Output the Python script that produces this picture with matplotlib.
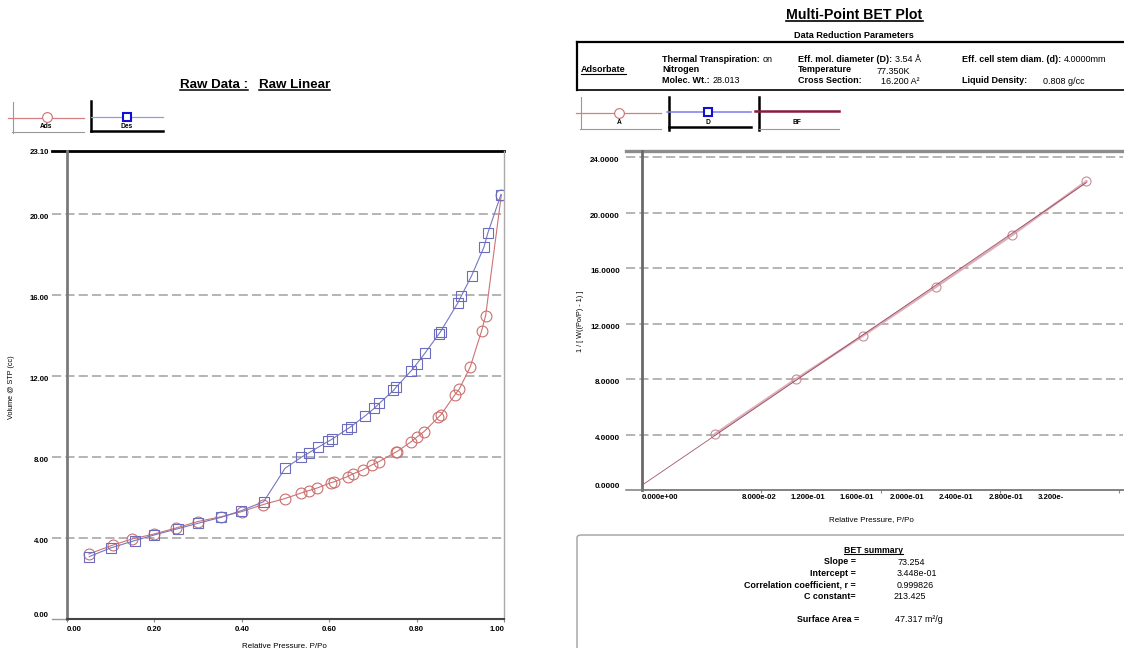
import matplotlib
matplotlib.use('Agg')
import matplotlib.pyplot as plt
from matplotlib.lines import Line2D
from matplotlib.patches import FancyBboxPatch
import numpy as np

plt.rcParams['font.family'] = ['Liberation Sans', 'DejaVu Sans']

W, H = 1124, 648

# Raw isotherm
ads_p = [0.050, 0.105, 0.149, 0.200, 0.249, 0.299, 0.353, 0.400, 0.449, 0.498,
         0.536, 0.554, 0.573, 0.603, 0.611, 0.642, 0.654, 0.677, 0.699, 0.714,
         0.752, 0.755, 0.788, 0.800, 0.817, 0.850, 0.856, 0.888, 0.898, 0.923,
         0.949, 0.958, 0.994]
ads_v = [3.21, 3.65, 3.95, 4.20, 4.49, 4.81, 5.05, 5.30, 5.65, 5.94,
         6.22, 6.34, 6.47, 6.72, 6.77, 7.03, 7.16, 7.36, 7.62, 7.77,
         8.23, 8.26, 8.76, 8.97, 9.25, 9.96, 10.09, 11.08, 11.36, 12.46,
         14.24, 14.98, 20.95]
des_p = [0.993, 0.963, 0.954, 0.926, 0.902, 0.894, 0.855, 0.851, 0.819, 0.800,
         0.788, 0.753, 0.747, 0.715, 0.703, 0.682, 0.650, 0.641, 0.606, 0.598,
         0.575, 0.554, 0.536, 0.499, 0.450, 0.399, 0.353, 0.299, 0.254, 0.200,
         0.155, 0.100, 0.051]
des_v = [20.95, 19.05, 18.35, 16.95, 15.93, 15.59, 14.19, 14.07, 13.12, 12.58,
         12.26, 11.44, 11.28, 10.65, 10.40, 10.02, 9.50, 9.37, 8.87, 8.77,
         8.48, 8.21, 7.98, 7.44, 5.79, 5.35, 5.02, 4.72, 4.46, 4.15,
         3.87, 3.51, 3.08]

# BET transform points
bet_p = [0.049, 0.103, 0.148, 0.197, 0.248, 0.298]
bet_y = [4.04, 7.98, 11.12, 14.65, 18.38, 22.27]
slope = 73.254
intercept = 0.3448

iso_yticks = [0, 4, 8, 12, 16, 20, 23.10]
iso_xticks = [0, 0.2, 0.4, 0.6, 0.8, 1.0]
bet_yticks = [0, 4, 8, 12, 16, 20, 24]
bet_xmajor = [0.08, 0.16, 0.24, 0.32]
# the report prints its x labels at these (odd) places
bet_xlab_pos = [0.0, 0.0785, 0.1113, 0.1442, 0.1777, 0.2106, 0.2441, 0.2743]
bet_xlab = ['0.000e+00', '8.000e-02', '1.200e-01', '1.600e-01', '2.000e-01',
            '2.400e-01', '2.800e-01', '3.200e-']

summary_keys = ['Slope =', 'Intercept =', 'Correlation coefficient, r =', 'C constant=']
summary_vals = ['73.254', '3.448e-01', '0.999826', '213.425']

fig = plt.figure(figsize=(W / 100, H / 100), dpi=100)
fig.patch.set_facecolor('white')


def fx(x):
    return x / W


def fy(y):
    return 1 - y / H


def T(x, y, s, **kw):
    kw.setdefault('va', 'center')
    kw.setdefault('fontsize', 6.5)
    return fig.text(fx(x), fy(y), s, **kw)


def L(xs, ys, **kw):
    fig.add_artist(Line2D([fx(v) for v in xs], [fy(v) for v in ys],
                          transform=fig.transFigure, **kw))


def underline(t, lw=0.9):
    r = fig.canvas.get_renderer()
    bb = t.get_window_extent(renderer=r)
    yy = (bb.y0 + 1.0) / H
    fig.add_artist(Line2D([bb.x0 / W, bb.x1 / W], [yy, yy],
                          transform=fig.transFigure, color='black', lw=lw))


def pair(x, y, bold, normal):
    t = T(x, y, bold, fontweight='bold')
    r = fig.canvas.get_renderer()
    bb = t.get_window_extent(renderer=r)
    T(bb.x1 + 3, y, normal)


dash = (0, (5.5, 2.5))

# ---------------- left: raw isotherm ----------------
ax1 = fig.add_axes([fx(67), fy(619), (504 - 67) / W, (619 - 151) / H])
ax1.set_xlim(0, 1.0)
ax1.set_ylim(0, 23.10)
for y in iso_yticks[1:-1]:
    ax1.axhline(y, xmin=-0.035, xmax=1, color='#a8a8a8', lw=1.2, ls=dash,
                clip_on=False, zorder=0)
ax1.axhline(23.10, xmin=-0.035, xmax=1, color='black', lw=2, clip_on=False)
ax1.axhline(0, xmin=-0.035, xmax=0, color='#999999', lw=1, clip_on=False)

ax1.plot(ads_p, ads_v, color='#cc7373', lw=0.8, marker='o', ms=7.8,
         mfc='none', mec='#cc6f6f', mew=0.8)
ax1.plot(des_p, des_v, color='#7676c2', lw=0.8, marker='s', ms=7.2,
         mfc='none', mec='#6c6cbc', mew=0.8)

ax1.spines['top'].set_visible(False)
ax1.spines['left'].set_color('#7a7a7a')
ax1.spines['left'].set_linewidth(2)
ax1.spines['right'].set_color('#aaaaaa')
ax1.spines['right'].set_linewidth(1)
ax1.spines['bottom'].set_color('#444444')
ax1.spines['bottom'].set_linewidth(1.5)
ax1.set_yticks(iso_yticks)
ax1.set_yticklabels([f'{v:.2f}' for v in iso_yticks], fontsize=5.6, fontweight='bold')
ax1.set_xticks(iso_xticks)
ax1.set_xticklabels([f'{v:.2f}' for v in iso_xticks], fontsize=5.6, fontweight='bold')
ax1.tick_params(axis='y', length=0, pad=13)
ax1.tick_params(axis='x', length=2, pad=3, color='#888888')
for lab in ax1.get_yticklabels()[:-1]:
    lab.set_va('top')
ax1.get_yticklabels()[0].set_va('bottom')
ax1.get_xticklabels()[0].set_ha('left')
ax1.get_xticklabels()[-1].set_ha('right')

T(12, 387, 'Volume @ STP (cc)', fontsize=5.2, rotation=90, ha='center')
T(284, 646, 'Relative Pressure, P/Po', fontsize=5.8, ha='center')

t = T(180, 85, 'Raw Data :', fontsize=9.6, fontweight='bold', ha='left')
underline(t, 1.1)
t = T(259, 85, 'Raw Linear', fontsize=9.6, fontweight='bold', ha='left')
underline(t, 1.1)

# legend keys (left)
L([12.5, 12.5], [102, 133], color='#999999', lw=0.8)
L([8, 84], [117.5, 117.5], color='#d08080', lw=0.9)
L([12, 84], [132, 132], color='#999999', lw=0.8)
fig.add_artist(Line2D([fx(46.5)], [fy(117)], transform=fig.transFigure, marker='o',
                      ms=7, mfc='white', mec='#cc7070', mew=0.8))
T(46.5, 126, 'Ads', fontsize=4.8, fontweight='bold', ha='center')
L([91, 91], [101, 131], color='black', lw=1.8)
L([91, 163], [117, 117], color='#9a9ad8', lw=0.9)
L([91, 163], [130.5, 130.5], color='black', lw=1.8)
fig.add_artist(Line2D([fx(126.5)], [fy(116.5)], transform=fig.transFigure, marker='s',
                      ms=6.2, mfc='white', mec='#1010d0', mew=1.5))
T(126.5, 126, 'Des', fontsize=4.8, fontweight='bold', ha='center')

# ---------------- right: BET plot ----------------
ax2 = fig.add_axes([fx(642), fy(490), (1123 - 642) / W, (490 - 151) / H])
ax2.set_xlim(0, 0.3225)
ax2.set_ylim(0, 24.45)
for y in bet_yticks[1:]:
    ax2.axhline(y, xmin=-0.033, xmax=1, color='#a8a8a8', lw=1.2, ls=dash,
                clip_on=False, zorder=0)
ax2.axhline(24.45, xmin=-0.033, xmax=1, color='#8c8c8c', lw=2.4, clip_on=False)
ax2.axhline(0, xmin=-0.033, xmax=0, color='#888888', lw=1.2, clip_on=False)

fit_x = np.array([0.0, bet_p[-1]])
ax2.plot(bet_p, bet_y, color='#dcb0b8', lw=1.8, marker='o', ms=6.5,
         mfc='none', mec='#c98c98', mew=0.8)
ax2.plot(fit_x, intercept + slope * fit_x, color='#8a2a48', lw=0.6, alpha=0.8)

ax2.spines['top'].set_visible(False)
ax2.spines['right'].set_visible(False)
ax2.spines['left'].set_color('#6a6a6a')
ax2.spines['left'].set_linewidth(2)
ax2.spines['bottom'].set_color('#777777')
ax2.spines['bottom'].set_linewidth(1.3)
ax2.set_yticks(bet_yticks)
ax2.set_yticklabels([f'{v:.4f}' for v in bet_yticks], fontsize=5.8, fontweight='bold')
ax2.tick_params(axis='y', length=0, pad=16)
for lab in ax2.get_yticklabels()[1:]:
    lab.set_va('top')
ax2.get_yticklabels()[0].set_va('bottom')
ax2.set_xticks(bet_xmajor)
ax2.set_xticklabels([])
ax2.tick_params(axis='x', which='major', length=2.5, color='#888888')
ax2.set_xticks(bet_xlab_pos, minor=True)
ax2.set_xticklabels(bet_xlab, minor=True, fontsize=5.6, fontweight='bold')
ax2.tick_params(axis='x', which='minor', length=0, pad=3)
ax2.get_xticklabels(minor=True)[0].set_ha('left')

T(580, 321, '1 / [ W((Po/P) - 1) ]', fontsize=5.2, rotation=90, ha='center')
T(871, 520, 'Relative Pressure, P/Po', fontsize=5.8, ha='center')

# header
t = T(854.5, 15, 'Multi-Point BET Plot', fontsize=10.2, fontweight='bold', ha='center')
underline(t, 1.2)
T(854, 35, 'Data Reduction Parameters', fontsize=6.6, fontweight='bold', ha='center')
L([577, 1124], [42, 42], color='black', lw=1.6)
L([577, 577], [42, 90], color='black', lw=1.6)
L([577, 1124], [89.5, 89.5], color='black', lw=1.2)
t = T(581, 70, 'Adsorbate', fontweight='bold', ha='left')
underline(t, 0.8)
pair(662, 59.5, 'Thermal Transpiration:', 'on')
T(662, 70, 'Nitrogen', fontweight='bold', ha='left')
pair(662, 80.5, 'Molec. Wt.:', '28.013')
pair(798, 59.5, 'Eff. mol. diameter (D):', '3.54 Å')
T(798, 70, 'Temperature', fontweight='bold', ha='left')
T(877, 71, '77.350K', ha='left')
T(798, 80.5, 'Cross Section:', fontweight='bold', ha='left')
T(881, 81.5, '16.200 A²', ha='left')
pair(962, 59.5, 'Eff. cell stem diam. (d):', '4.0000mm')
T(962, 80.5, 'Liquid Density:', fontweight='bold', ha='left')
T(1043, 82, '0.808 g/cc', ha='left')

# legend keys (right)
L([580.5, 580.5], [97, 129], color='#999999', lw=0.8)
L([576, 661], [113, 113], color='#d08080', lw=0.9)
L([580, 661], [128.5, 128.5], color='#999999', lw=0.8)
fig.add_artist(Line2D([fx(619)], [fy(113)], transform=fig.transFigure, marker='o',
                      ms=7, mfc='white', mec='#cc7070', mew=0.8))
T(619, 123, 'A', fontsize=4.8, fontweight='bold', ha='center')
L([669, 669], [97, 130], color='black', lw=1.8)
L([667, 751], [112, 112], color='#7a7ae8', lw=1.1)
L([669, 751], [127, 127], color='black', lw=1.8)
fig.add_artist(Line2D([fx(708)], [fy(112)], transform=fig.transFigure, marker='s',
                      ms=6.2, mfc='white', mec='#1010d0', mew=1.5))
T(708, 123, 'D', fontsize=4.8, fontweight='bold', ha='center')
L([759, 759], [97, 130], color='black', lw=1.8)
L([755, 839], [111, 111], color='#8a1a40', lw=1.8)
L([759, 839], [128.5, 128.5], color='#999999', lw=0.8)
T(797, 123, 'BF', fontsize=4.8, fontweight='bold', ha='center')

# BET summary panel
fig.add_artist(FancyBboxPatch((fx(577), fy(660)), fx(560), 125 / H,
                              boxstyle='round,pad=0,rounding_size=0.004',
                              transform=fig.transFigure, fc='none',
                              ec='#a0a0a0', lw=1.0))
t = T(873, 550.5, 'BET summary', fontsize=6.3, fontweight='bold', ha='center')
underline(t, 0.8)
for i, (k, v) in enumerate(zip(summary_keys, summary_vals)):
    yy = 562 + i * 11.4
    T(856, yy, k, fontsize=6.4, fontweight='bold', ha='right')
    T(897 if i != 3 else 894, yy + 0.5, v, fontsize=6.4, ha='left')
T(859, 619, 'Surface Area =', fontsize=6.4, fontweight='bold', ha='right')
T(895, 619.5, '47.317 m²/g', fontsize=6.4, ha='left')

plt.savefig('out.png', dpi=100, facecolor='white')
plt.close()
